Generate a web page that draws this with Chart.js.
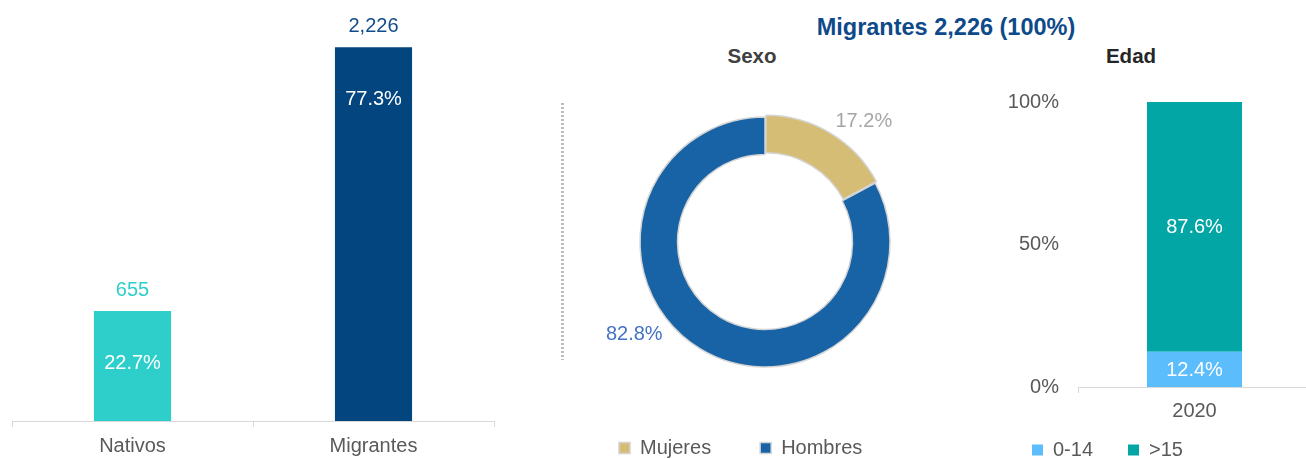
<!DOCTYPE html>
<html>
<head>
<meta charset="utf-8">
<script src="https://cdn.jsdelivr.net/npm/chart.js@4.4.1/dist/chart.umd.min.js"></script>
<style>
html,body{margin:0;padding:0;background:#fff;overflow:hidden;width:1306px;height:459px;position:relative;font-family:'Liberation Sans',Arial,sans-serif}
.caja{position:absolute}
.tit{position:absolute;white-space:nowrap;line-height:1;font-weight:bold;transform:translateX(-50%)}
#sep{position:absolute;left:561px;top:103px;width:3px;height:257px;background:repeating-linear-gradient(#BDBDBD 0 2px,transparent 2px 4px)}
</style>
</head>
<body>
<div class="caja" style="left:0;top:0;width:506px;height:459px"><canvas id="pob"></canvas></div>
<div id="sep"></div>
<div class="tit" style="left:946px;top:15.5px;font-size:23.5px;color:#0E4A8A">Migrantes 2,226 (100%)</div>
<div class="tit" style="left:752px;top:46px;font-size:20.5px;color:#404040">Sexo</div>
<div class="tit" style="left:1131px;top:45.5px;font-size:20.5px;color:#262626">Edad</div>
<div class="caja" style="left:570px;top:95px;width:390px;height:364px"><canvas id="sexo"></canvas></div>
<div class="caja" style="left:997px;top:79px;width:314px;height:380px"><canvas id="edad"></canvas></div>
<script>
/* ---- datos ---- */
const pobCategorias = ['Nativos','Migrantes'];
const pobValores    = [655, 2226];
const pobPorcentaje = [22.7, 77.3];

const sexoCategorias = ['Mujeres','Hombres'];
const sexoValores    = [17.2, 82.8];

const edadAnios   = ['2020'];
const edadMenores = [12.4];   // 0-14
const edadMayores = [87.6];   // >15

/* ---- estilos ---- */
Chart.defaults.font.family = "'Liberation Sans', Arial, sans-serif";
Chart.defaults.font.size = 20;
Chart.defaults.color = '#595959';
const FUENTE = "20px 'Liberation Sans', Arial, sans-serif";
const colorValor = ['#2ECFCB','#114C8A'];
const colorEtiquetaSexo = ['#A6A6A6','#4472C4'];
const posSexo = [{frac:.635, dist:31}, {frac:.58, dist:35}];

/* ---- etiquetas ---- */
const etiquetasBarras = {
  id:'etiquetasBarras',
  afterDatasetsDraw(chart){
    const ctx = chart.ctx;
    ctx.save();
    ctx.font = FUENTE; ctx.textAlign = 'center'; ctx.textBaseline = 'middle';
    chart.getDatasetMeta(0).data.forEach((bar,i)=>{
      ctx.fillStyle = colorValor[i];
      ctx.fillText(pobValores[i].toLocaleString('en-US'), bar.x, bar.y-21);
      ctx.fillStyle = '#fff';
      ctx.fillText(pobPorcentaje[i].toFixed(1)+'%', bar.x, bar.y+52);
    });
    ctx.restore();
  }
};

const etiquetasSexo = {
  id:'etiquetasSexo',
  afterDatasetsDraw(chart){
    const ctx = chart.ctx;
    ctx.save();
    ctx.font = FUENTE; ctx.textAlign = 'center'; ctx.textBaseline = 'middle';
    chart.getDatasetMeta(0).data.forEach((arc,i)=>{
      const p = arc.getProps(['x','y','startAngle','endAngle','outerRadius'], true);
      const a = p.startAngle + (p.endAngle-p.startAngle)*posSexo[i].frac;
      const r = p.outerRadius + posSexo[i].dist;
      ctx.fillStyle = colorEtiquetaSexo[i];
      ctx.fillText(sexoValores[i].toFixed(1)+'%', p.x+Math.cos(a)*r, p.y+Math.sin(a)*r);
    });
    ctx.restore();
  }
};

const etiquetasEdad = {
  id:'etiquetasEdad',
  afterDatasetsDraw(chart){
    const ctx = chart.ctx;
    ctx.save();
    ctx.font = FUENTE; ctx.textAlign = 'center'; ctx.textBaseline = 'middle'; ctx.fillStyle = '#fff';
    chart.data.datasets.forEach((ds,d)=>{
      chart.getDatasetMeta(d).data.forEach((bar,i)=>{
        const p = bar.getProps(['x','y','base'], true);
        ctx.fillText(ds.data[i].toFixed(1)+'%', p.x, (p.y+p.base)/2+1);
      });
    });
    ctx.restore();
  }
};

/* ---- Nativos / Migrantes ---- */
new Chart(document.getElementById('pob'),{
  type:'bar',
  data:{ labels:pobCategorias,
    datasets:[{ data:pobValores, backgroundColor:['#2ECFCB','#02457F'], barPercentage:.32, categoryPercentage:1 }] },
  options:{
    responsive:true, maintainAspectRatio:false, animation:false,
    layout:{ padding:{left:12,right:12,top:18,bottom:1} },
    plugins:{ legend:{display:false}, tooltip:{enabled:false} },
    scales:{
      x:{ grid:{drawOnChartArea:false,color:'#D9D9D9',tickLength:6}, border:{color:'#D9D9D9'},
          ticks:{color:'#595959',padding:7}, afterFit(s){ s.height = 37; } },
      y:{ display:false, min:0, max:2400 }
    }
  },
  plugins:[etiquetasBarras]
});

/* ---- Sexo ---- */
new Chart(document.getElementById('sexo'),{
  type:'doughnut',
  data:{ labels:sexoCategorias,
    datasets:[{ data:sexoValores, backgroundColor:['#D6BD76','#1763A5'], borderColor:'#D4D4D4', borderWidth:1.5, offset:[7,0] }] },
  options:{
    responsive:true, maintainAspectRatio:false, animation:false,
    cutout:'70%', radius:125,
    plugins:{
      tooltip:{enabled:false},
      legend:{ position:'bottom', align:'start', maxHeight:70,
        labels:{boxWidth:11,boxHeight:11,padding:49,color:'#595959'} }
    }
  },
  plugins:[etiquetasSexo]
});

/* ---- Edad ---- */
new Chart(document.getElementById('edad'),{
  type:'bar',
  data:{ labels:edadAnios,
    datasets:[
      { label:'0-14', data:edadMenores, backgroundColor:'#5CBDFC' },
      { label:'>15',  data:edadMayores, backgroundColor:'#02A6A5' }
    ] },
  options:{
    responsive:true, maintainAspectRatio:false, animation:false,
    layout:{ padding:{top:22} },
    datasets:{ bar:{barPercentage:.408, categoryPercentage:1} },
    plugins:{
      tooltip:{enabled:false},
      legend:{ position:'bottom', align:'start', maxHeight:54,
        labels:{boxWidth:11,boxHeight:11,padding:35,color:'#595959'} }
    },
    scales:{
      // etiqueta del eje x bajo el legend: mirror evita el recorte
      x:{ stacked:true, grid:{drawOnChartArea:false,color:'#D9D9D9',tickLength:6}, border:{color:'#D9D9D9'},
          ticks:{color:'#595959',mirror:true,padding:-36}, afterFit(s){ s.height = 18; } },
      y:{ stacked:true, min:0, max:100, grid:{display:false}, border:{display:false},
          ticks:{stepSize:50,color:'#595959',padding:11,callback:v=>v+'%'}, afterFit(s){ s.width = 81; } }
    }
  },
  plugins:[etiquetasEdad]
});
</script>
</body>
</html>
